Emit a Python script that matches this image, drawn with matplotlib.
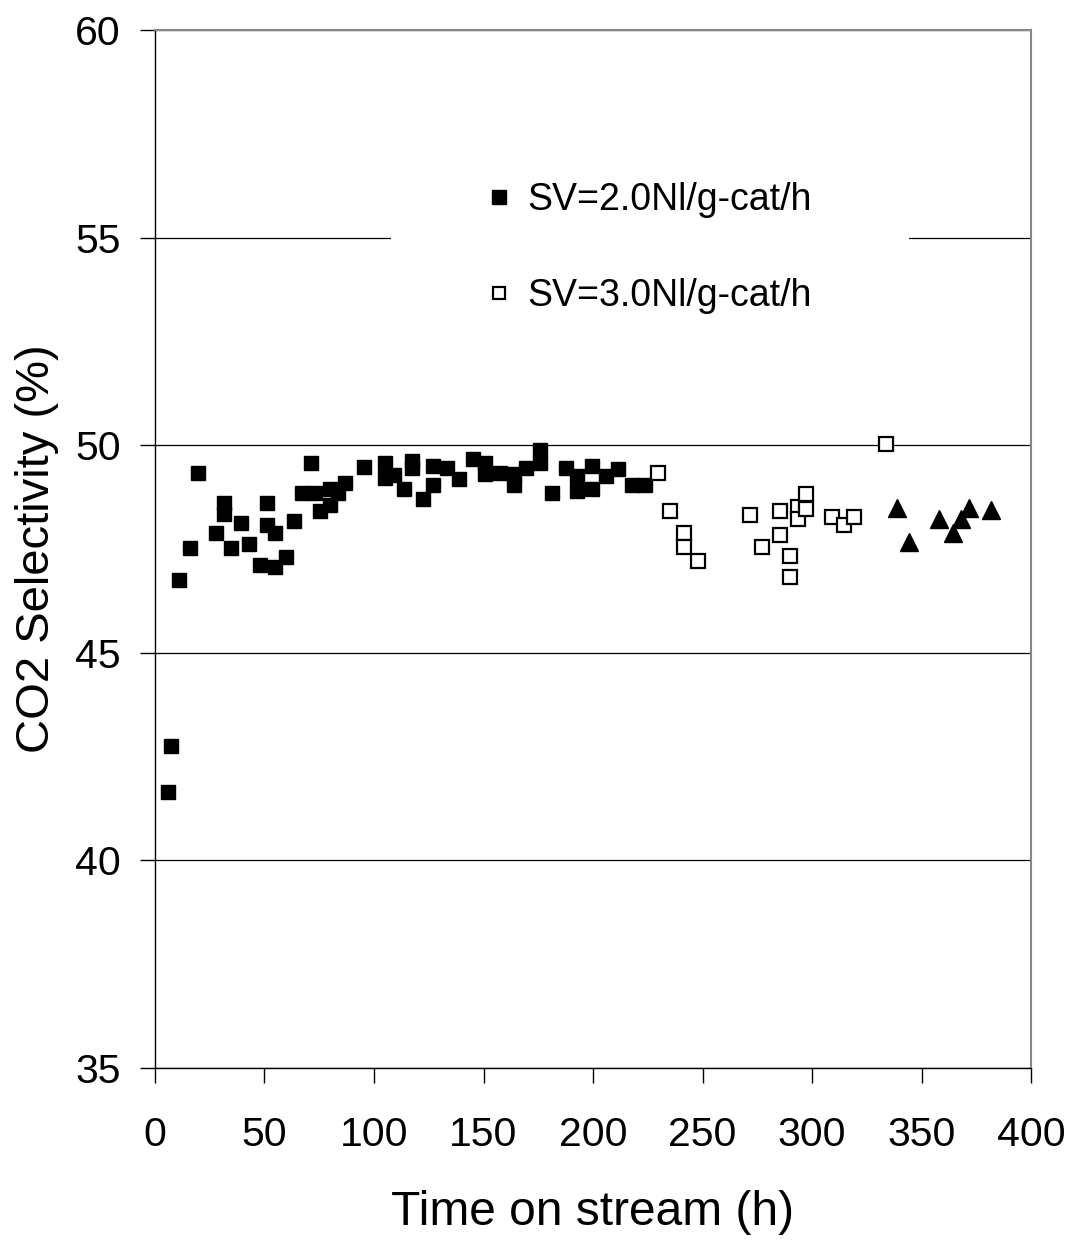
import matplotlib
matplotlib.use("Agg")
import matplotlib.pyplot as plt

plt.rcParams['font.family'] = ['Liberation Sans', 'DejaVu Sans']

# SV = 2.0 Nl/g-cat/h (filled squares)
t_sv2 = [5.8, 7.5, 11.1, 15.9, 19.5, 27.7, 31.4, 31.4, 34.8, 39.4, 43.1, 47.8,
         51.3, 51.3, 54.9, 54.9, 59.7, 63.3, 67.0, 71.4, 73.2, 75.2, 79.9, 79.9,
         83.4, 86.9, 95.3, 105.2, 105.2, 109.1, 113.6, 117.2, 117.2, 122.5,
         127.1, 127.1, 133.5, 139.0, 145.4, 150.8, 150.8, 157.5, 163.7, 163.7,
         169.2, 175.7, 175.7, 181.1, 187.5, 192.9, 192.9, 199.4, 199.4, 206.0,
         211.3, 217.7, 223.7]
s_sv2 = [41.65, 42.76, 46.75, 47.52, 49.34, 47.89, 48.61, 48.34, 47.52, 48.12,
         47.62, 47.12, 48.61, 48.08, 47.88, 47.07, 47.31, 48.17, 48.85, 49.57,
         48.85, 48.41, 48.94, 48.56, 48.85, 49.09, 49.47, 49.58, 49.20, 49.28,
         48.94, 49.62, 49.46, 48.70, 49.50, 49.04, 49.46, 49.18, 49.66, 49.58,
         49.30, 49.32, 49.30, 49.04, 49.46, 49.88, 49.58, 48.85, 49.46, 49.26,
         48.90, 49.50, 48.94, 49.25, 49.42, 49.04, 49.04]

# SV = 3.0 Nl/g-cat/h (open squares)
t_sv3 = [229.5, 235.0, 241.6, 241.6, 247.8, 271.5, 277.2, 285.4, 285.4, 289.8,
         289.8, 293.8, 293.8, 297.1, 297.1, 309.1, 314.4, 319.0, 333.6]
s_sv3 = [49.33, 48.41, 47.89, 47.55, 47.21, 48.31, 47.55, 48.41, 47.84, 47.32,
         46.82, 48.52, 48.22, 48.82, 48.46, 48.27, 48.08, 48.27, 50.02]

# back to SV = 2.0 (triangles)
t_tri = [338.8, 344.1, 358.0, 364.4, 368.2, 371.7, 381.7]
s_tri = [48.49, 47.68, 48.22, 47.88, 48.22, 48.49, 48.44]

fig = plt.figure(figsize=(10.71, 12.41), dpi=100)
ax = fig.add_axes([0.1447, 0.1394, 0.818, 0.8364])

ax.plot(t_sv2, s_sv2, 's', color='black', markersize=10.5, linestyle='none',
        label='SV=2.0Nl/g-cat/h', zorder=3)
ax.plot(t_sv3, s_sv3, 's', markerfacecolor='white', markeredgecolor='black',
        markeredgewidth=1.6, markersize=10, linestyle='none',
        label='SV=3.0Nl/g-cat/h', zorder=3)
ax.plot(t_tri, s_tri, '^', color='black', markersize=13, linestyle='none', zorder=3)

ax.set_xlim(0, 400)
ax.set_ylim(35, 60)
ax.set_xticks(range(0, 401, 50))
ax.set_yticks(range(35, 61, 5))

ax.yaxis.grid(True, color='black', linewidth=0.9)
ax.set_axisbelow(True)

for side in ['top', 'right']:
    ax.spines[side].set_color('#888888')
    ax.spines[side].set_linewidth(1.5)
for side in ['left', 'bottom']:
    ax.spines[side].set_color('black')
    ax.spines[side].set_linewidth(1.0)

ax.tick_params(axis='both', direction='out', length=10.5, width=1.0,
               labelsize=29.5)
ax.tick_params(axis='x', pad=24)
ax.tick_params(axis='y', pad=14)

ax.set_xlabel('Time on stream (h)', fontsize=34.5, labelpad=26)
ax.set_ylabel('CO2 Selectivity (%)', fontsize=34, labelpad=12)

leg = ax.legend(loc='center', bbox_to_anchor=(0.565, 0.79), fontsize=27,
                frameon=True, facecolor='white', edgecolor='none', framealpha=1,
                fancybox=False, markerscale=0.9, handlelength=0.6,
                handletextpad=0.45, labelspacing=1.6, borderpad=2.6)

fig.savefig('out.png', dpi=100)
